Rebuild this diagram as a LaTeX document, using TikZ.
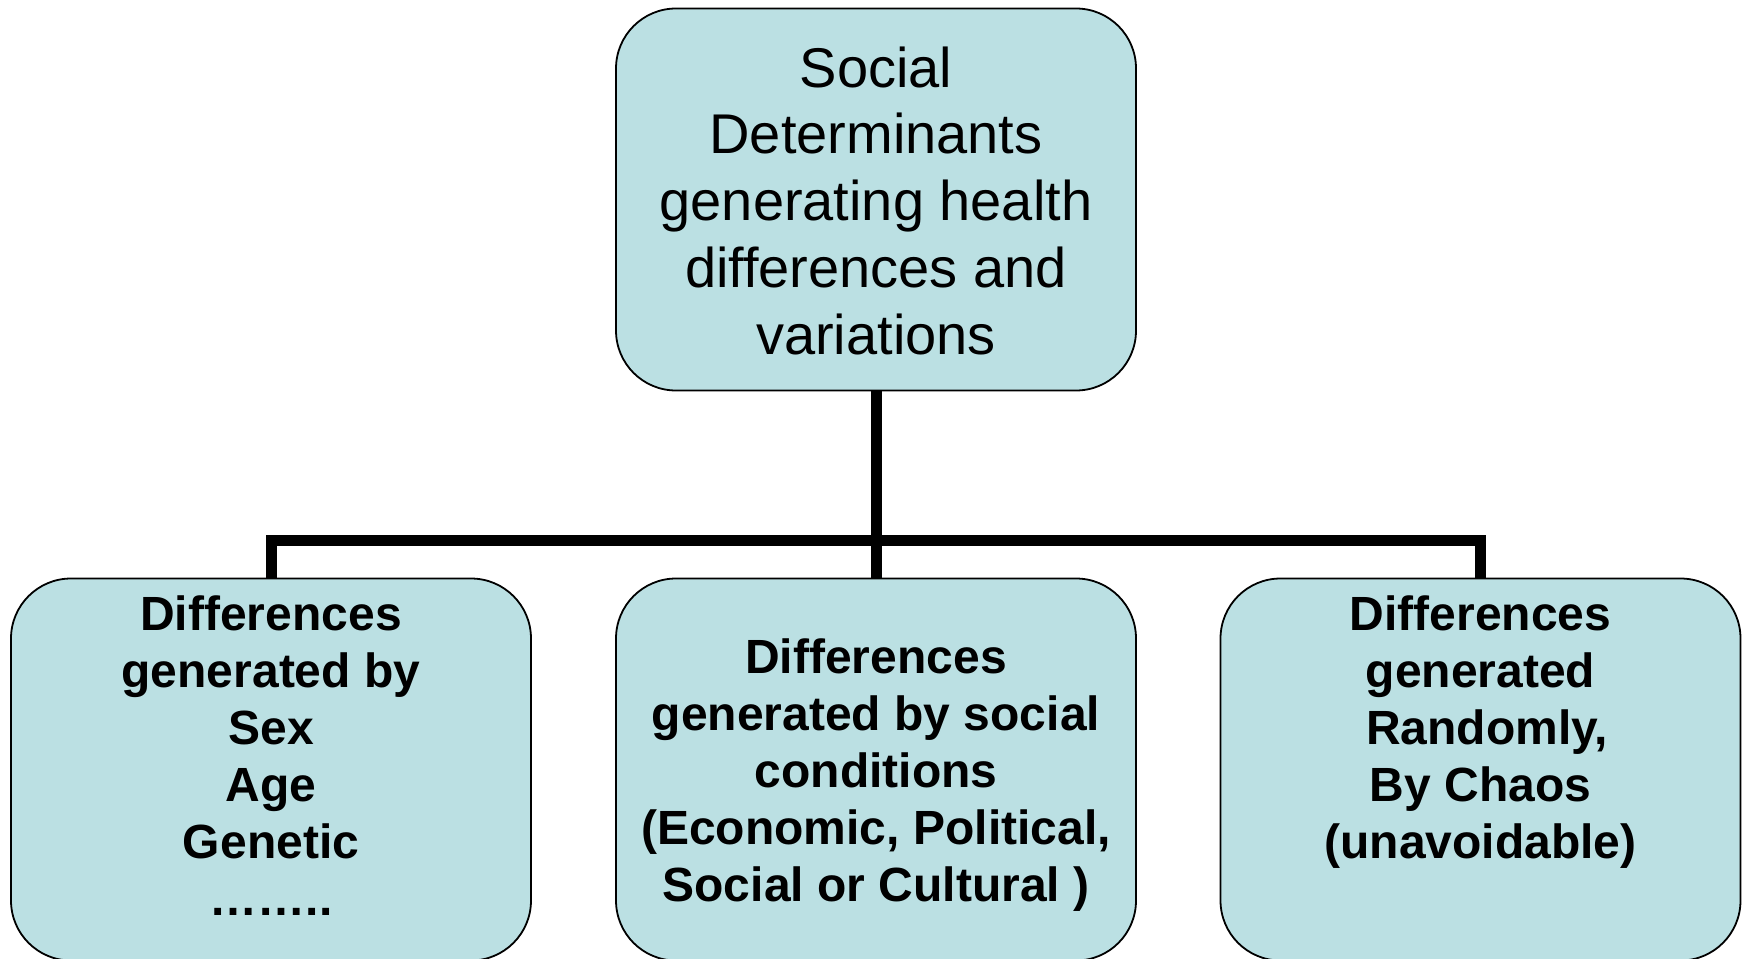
\documentclass[tikz,border=0pt]{standalone}
\usepackage{fontspec}
\setmainfont{Liberation Sans}
\definecolor{boxfill}{RGB}{187,224,227}
\begin{document}
\begin{tikzpicture}[x=1pt,y=-1pt,
  box/.style={draw=black, line width=1.8pt, fill=boxfill, rounded corners=60pt,
    minimum width=520pt, minimum height=382pt, inner sep=0pt},
  conn/.style={draw=black, line width=11pt, line join=miter, line cap=butt},
  toptext/.style={anchor=north, inner sep=0pt, align=center,
    font=\fontsize{56}{66.75}\selectfont},
  subtext/.style={anchor=north, inner sep=0pt, align=center,
    font=\fontsize{48}{57}\selectfont\bfseries}]
\useasboundingbox (0,0) rectangle (1744,958);
% boxes
\node[box] (top) at (876,199.5) {};
\node[box] (left) at (271,769.5) {};
\node[box] (mid) at (876,769.5) {};
\node[box] (right) at (1480.5,769.5) {};
% connectors
\coordinate (bar) at (876,540.5);
\draw[conn] (left.north) |- (bar) -| (right.north);
\draw[conn] (top.south) -- (mid.north);
% texts (first baseline = top + rule height)
\node[toptext] (ttop) at (876,37) {\rule{0pt}{50pt}Social\\Determinants\\generating health\\differences and\\variations};
\node[subtext] (tleft) at (271,590) {\rule{0pt}{40pt}Differences\\generated by\\Sex\\Age\\Genetic\\……..};
\node[subtext] (tmid) at (876,633) {\rule{0pt}{40pt}Differences\\generated by social\\conditions\\(Economic, Political,\\Social or Cultural )};
\node[subtext] (tright) at (1480.5,590) {\rule{0pt}{40pt}Differences\\generated\\\ Randomly,\\By Chaos\\(unavoidable)};
\end{tikzpicture}
\end{document}
